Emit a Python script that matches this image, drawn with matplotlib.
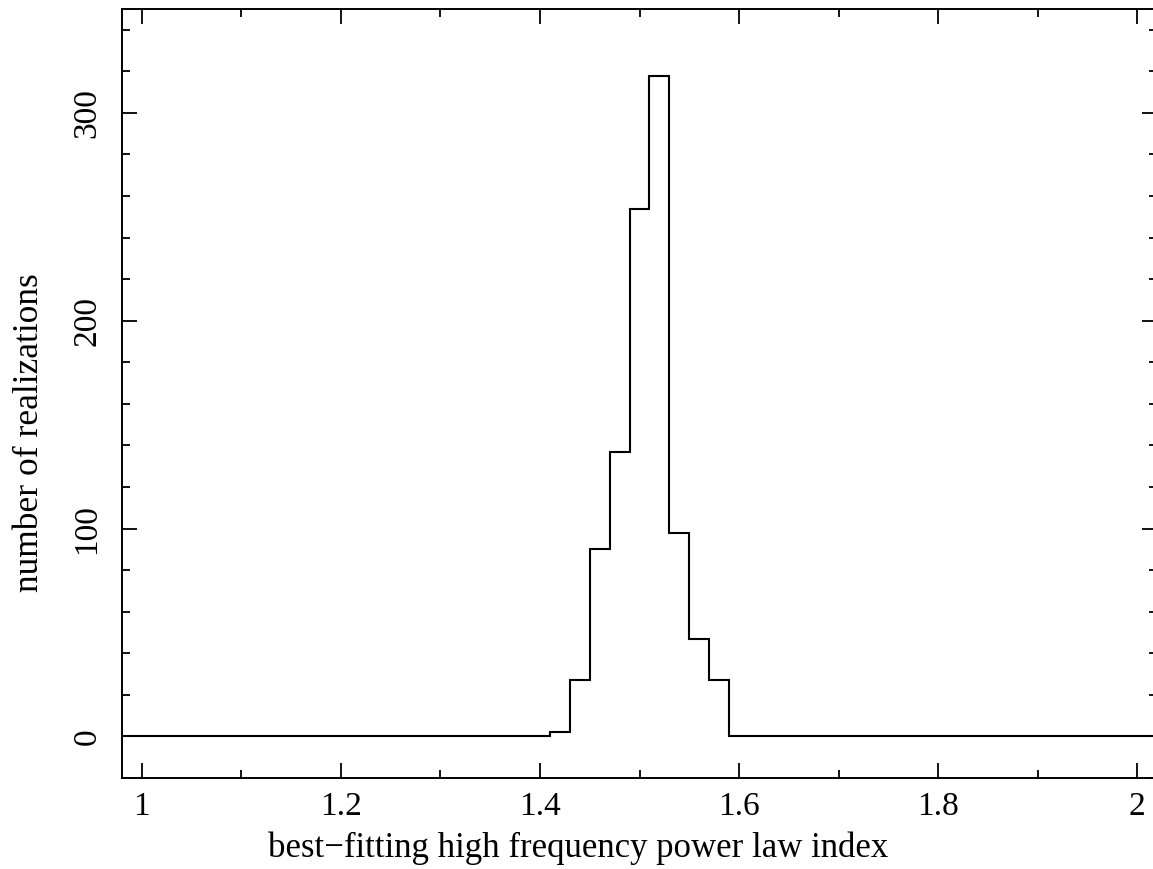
import numpy as np
import matplotlib
matplotlib.use("Agg")
import matplotlib.pyplot as plt
from matplotlib.ticker import MultipleLocator

# Histogram data: bin centres (width 0.02) and counts
bin_width = 0.02
bin_centers = [0.98, 1.00, 1.02, 1.04, 1.06, 1.08, 1.10, 1.12, 1.14, 1.16,
               1.18, 1.20, 1.22, 1.24, 1.26, 1.28, 1.30, 1.32, 1.34, 1.36,
               1.38, 1.40, 1.42, 1.44, 1.46, 1.48, 1.50, 1.52, 1.54, 1.56,
               1.58, 1.60, 1.62, 1.64, 1.66, 1.68, 1.70, 1.72, 1.74, 1.76,
               1.78, 1.80, 1.82, 1.84, 1.86, 1.88, 1.90, 1.92, 1.94, 1.96,
               1.98, 2.00, 2.02]
counts = [0, 0, 0, 0, 0, 0, 0, 0, 0, 0,
          0, 0, 0, 0, 0, 0, 0, 0, 0, 0,
          0, 0, 2, 27, 90, 137, 254, 318, 98, 47,
          27, 0, 0, 0, 0, 0, 0, 0, 0, 0,
          0, 0, 0, 0, 0, 0, 0, 0, 0, 0,
          0, 0, 0]
x_ticks = [1.0, 1.2, 1.4, 1.6, 1.8, 2.0]
x_ticklabels = ["1", "1.2", "1.4", "1.6", "1.8", "2"]
y_ticks = [0, 100, 200, 300]
y_ticklabels = ["0", "100", "200", "300"]

plt.rcParams['font.family'] = ['Liberation Serif', 'DejaVu Serif']

fig = plt.figure(figsize=(11.53, 8.69), dpi=100)
ax = fig.add_axes([122/1153, 1 - 778/869, (1157 - 122)/1153, (778 - 9)/869])

edges = np.array(bin_centers) - bin_width / 2
edges = np.append(edges, bin_centers[-1] + bin_width / 2)
ax.stairs(counts, edges, color='black', linewidth=1.5, baseline=None)

ax.set_xlim(0.98, 2.02)
ax.set_ylim(-20, 350)
ax.set_xticks(x_ticks)
ax.set_xticklabels(x_ticklabels)
ax.set_yticks(y_ticks)
ax.set_yticklabels(y_ticklabels, rotation=90, va='center')
ax.xaxis.set_minor_locator(MultipleLocator(0.1))
ax.yaxis.set_minor_locator(MultipleLocator(20))

ax.tick_params(which='both', direction='in', top=True, right=True,
               width=1.3, labelsize=24)
ax.tick_params(which='major', length=11)
ax.tick_params(which='minor', length=5.5)
ax.tick_params(axis='x', which='major', pad=10)
ax.tick_params(axis='y', which='major', pad=14)
for s in ax.spines.values():
    s.set_linewidth(1.4)

ax.set_xlabel("best\u2212fitting high frequency power law index", fontsize=25)
ax.set_ylabel("number of realizations", fontsize=25.5)
ax.xaxis.set_label_coords((578 - 122) / 1035, -(848 - 778) / 769)
ax.yaxis.set_label_coords(-(122 - 30) / 1035, (778 - 433) / 769)
ax.xaxis.label.set_va('center')
ax.yaxis.label.set_va('center')

fig.savefig("out.png", dpi=100)
